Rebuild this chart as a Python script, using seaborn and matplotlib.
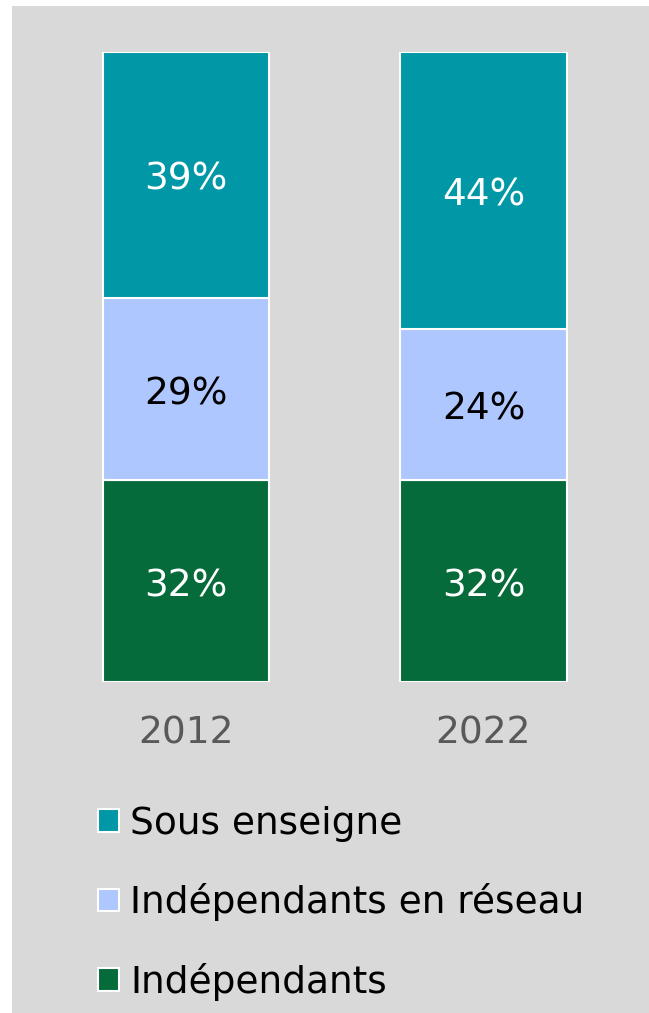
import matplotlib
matplotlib.use("Agg")
import matplotlib.pyplot as plt
import matplotlib.patches as mpatches
import seaborn as sns
import pandas as pd
import numpy as np

years = ["2012", "2022"]
series_names = ["Indépendants", "Indépendants en réseau", "Sous enseigne"]
independants = [32, 32]
reseau = [29, 24]
enseigne = [39, 44]
colors = ["#056B3A", "#AFC7FF", "#0097A7"]
text_colors = ["white", "black", "white"]

sns.set_theme(style="white")
plt.rcParams['font.family'] = ['DejaVu Sans']
plt.rcParams['text.color'] = 'black'

fig = plt.figure(figsize=(6.49, 10.13), dpi=100)
fig.patch.set_facecolor("white")
fig.patches.append(mpatches.Rectangle((12/649, 0), 1 - 12/649, 1 - 6/1013,
                                      transform=fig.transFigure, facecolor="#D9D9D9",
                                      edgecolor="none", zorder=-10))
ax = fig.add_axes([37.25/649, (1013-682)/1013, 595/649, 630/1013])
ax.set_facecolor("none")

df = pd.DataFrame({"year": years, series_names[0]: independants,
                   series_names[1]: reseau, series_names[2]: enseigne})

bottom = np.zeros(len(years))
for name, col, tc in zip(series_names, colors, text_colors):
    vals = df[name].values
    sns.barplot(data=df, x="year", y=name, color=col, bottom=bottom, width=0.558,
                edgecolor="white", linewidth=1.5, saturation=1, ax=ax)
    for i, v in enumerate(vals):
        ax.text(i, bottom[i] + v / 2 - 0.8, f"{v}%", ha="center", va="center",
                color=tc, fontsize=27)
    bottom = bottom + vals

ax.set_xlim(-0.5, 1.5)
ax.set_ylim(0, 100)
ax.set_ylabel("")
ax.set_xlabel("")
ax.set_yticks([])
for s in ax.spines.values():
    s.set_visible(False)
ax.tick_params(axis="x", length=0, pad=24, labelsize=27, labelcolor="#595959")

handles = [mpatches.Patch(facecolor=c, edgecolor="white", linewidth=1.5, label=n)
           for n, c in zip(series_names, colors)][::-1]
fig.legend(handles=handles, loc="upper left", bbox_to_anchor=(98/649, 1 - 806/1013),
           frameon=False, fontsize=27, handlelength=0.55, handleheight=0.55,
           handletextpad=0.3, labelspacing=1.1, borderaxespad=0, borderpad=0,
           labelcolor="black")

fig.savefig("out.png", dpi=100)
